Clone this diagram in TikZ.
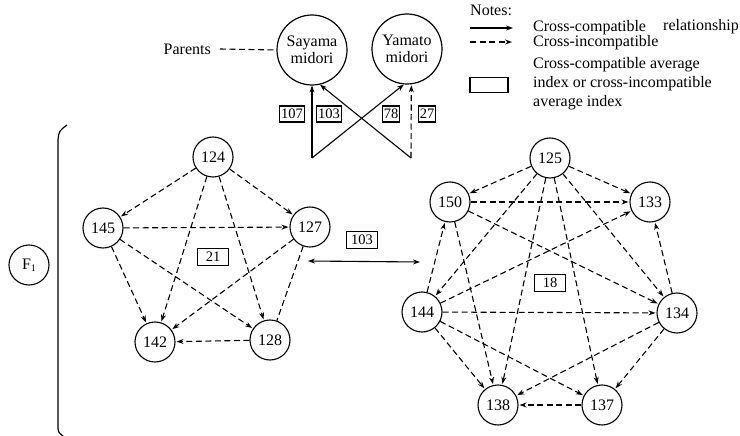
\documentclass[tikz,border=0pt]{standalone}
\usepackage{fontspec}
\setmainfont{Liberation Serif}
\usetikzlibrary{arrows.meta}
\begin{document}
\begin{tikzpicture}[x=1pt,y=-1pt,
  nd/.style={circle,draw,line width=1.1pt,minimum size=40pt,inner sep=0pt,font=\fontsize{16}{16}\selectfont},
  bignd/.style={circle,draw,line width=1.2pt,minimum size=70pt,inner sep=0pt,align=center,font=\fontsize{16}{17}\selectfont},
  ibox/.style={draw,line width=1.1pt,inner xsep=1.5pt,inner ysep=0pt,minimum height=16pt,font=\fontsize{14.5}{14.5}\selectfont},
  wbox/.style={ibox,minimum width=31pt,minimum height=17pt},
  txt/.style={inner sep=0pt,font=\fontsize{16}{16}\selectfont},
  tip/.style={-{Stealth[length=7pt,width=5pt]}},
  dsh/.style={line width=1.1pt,dash pattern=on 6pt off 3.5pt},
  ed/.style={dsh,tip,shorten >=1pt},
  sol/.style={line width=1.1pt,tip}]
\useasboundingbox (0,0) rectangle (740,436);

% parents
\node[bignd] (say) at (312,50) {Sayama\\midori};
\node[bignd] (yam) at (407,49) {Yamato\\midori};
\node[txt,anchor=east] (par) at (211,49) {Parents};
\draw[dsh] (par.east) ++(9,0) coordinate (pd) -- (say.west);
\coordinate (pL) at (312,158);
\coordinate (pR) at (411,158);
\draw[sol] (pL) -- (say.270);
\draw[sol] (pL) -- (yam.265);
\draw[sol] (pR) -- (say.283);
\draw[ed] (pR) -- (yam.277);
\node[ibox] (b107) at (292,114) {107};
\node[ibox] (b103) at (329,114) {103};
\node[ibox] (b78) at (391,114) {78};
\node[ibox] (b27) at (427,114) {27};

% legend
\node[txt,anchor=west] (notes) at (470,10) {Notes:};
\coordinate (la) at (470,28); \coordinate (lb) at (513,28);
\draw[sol] (la) -- (lb);
\coordinate (lc) at (470,42); \coordinate (ld) at (513,42);
\draw[ed] (lc) -- (ld);
\node[txt,anchor=west] (tcc) at (533,28) {Cross-compatible};
\node[txt,anchor=west] (trel) at (663,27) {relationship};
\node[txt,anchor=west] (tci) at (533,43) {Cross-incompatible};
\node[draw,line width=1.1pt,minimum width=38pt,minimum height=15pt,inner sep=0pt] (lbox) at (489,85) {};
\node[txt,anchor=west,align=left,font=\fontsize{16}{19}\selectfont] (tavg) at (533,84) {Cross-compatible average\\index or cross-incompatible\\average index};

% F1 and bracket
\node[nd] (f1) at (29,265) {F{\fontsize{10}{10}\selectfont\raisebox{-2pt}{1}}};
\draw[line width=1.2pt] (67,125) .. controls (59,131) .. (58,140) -- (58,425) .. controls (58,432) .. (63,436);

% left pentagon
\node[nd] (n124) at (213,157) {124};
\node[nd] (n145) at (103,228) {145};
\node[nd] (n127) at (310,227) {127};
\node[nd] (n142) at (155,342) {142};
\node[nd] (n128) at (270,340) {128};
\node[wbox] (b21) at (213,257) {21};
\draw[ed] (n124) -- (n145);
\draw[ed] (n124) -- (n127);
\draw[ed] (n124) -- (n142);
\draw[ed] (n124) -- (n128);
\draw[ed] (n145) -- (n127);
\draw[ed] (n145) -- (n142);
\draw[ed] (n145) -- (n128);
\draw[ed] (n127) -- (n142);
\draw[dsh] (n127) -- (n128);
\draw[ed] (n128) -- (n142);

% link between groups
\coordinate (ma) at (308,261);
\coordinate (mb) at (420,262);
\draw[line width=1.1pt,{Stealth[length=7pt,width=5pt]}-{Stealth[length=7pt,width=5pt]}] (ma) -- (mb);
\node[wbox] (b103m) at (362,240) {103};

% right heptagon
\node[nd] (n125) at (550,158) {125};
\node[nd] (n150) at (450,202) {150};
\node[nd] (n133) at (650,202) {133};
\node[nd] (n144) at (422,312) {144};
\node[nd] (n134) at (677,313) {134};
\node[nd] (n138) at (498,405) {138};
\node[nd] (n137) at (602,405) {137};
\node[wbox] (b18) at (550,283) {18};
\draw[ed] (n125) -- (n150);
\draw[ed] (n125) -- (n133);
\draw[ed] (n125) -- (n144);
\draw[ed] (n125) -- (n138);
\draw[ed] (n125) -- (n137);
\draw[ed] (n125) -- (n134);
\draw[ed] (n150) -- (n133);
\draw[ed] (n150) -- (n134);
\draw[ed] (n150) -- (n138);
\draw[ed] (n144) -- (n150);
\draw[ed] (n144) -- (n133);
\draw[ed] (n144) -- (n134);
\draw[ed] (n144) -- (n138);
\draw[ed] (n144) -- (n137);
\draw[ed] (n134) -- (n133);
\draw[ed] (n134) -- (n138);
\draw[ed] (n134) -- (n137);
\draw[ed] (n137) -- (n138);
\end{tikzpicture}
\end{document}
